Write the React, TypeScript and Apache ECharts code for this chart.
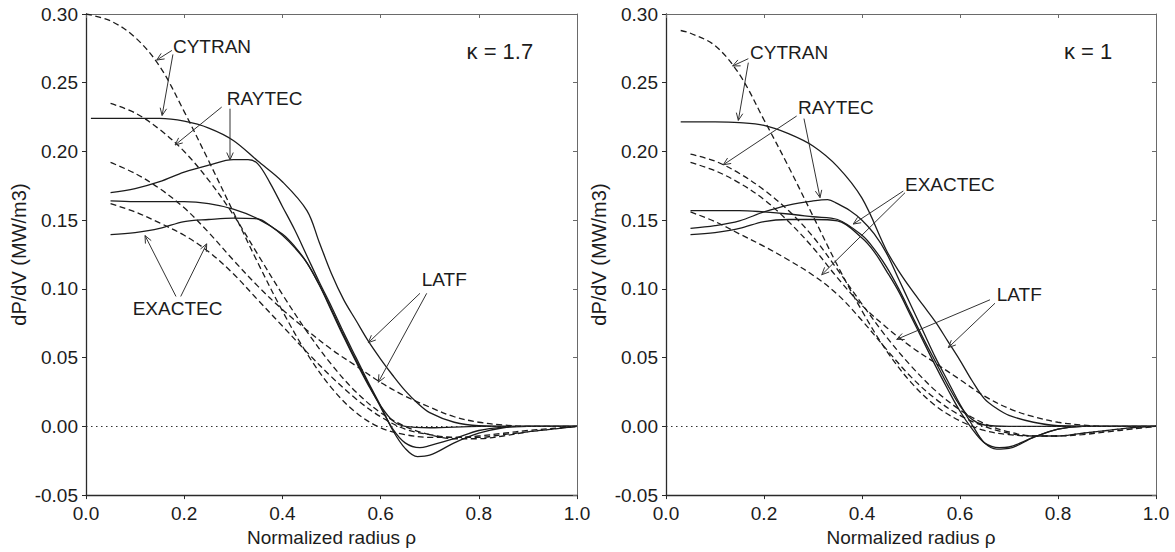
import React, { useEffect, useRef } from "react";
import * as echarts from "echarts";

// ---------- texts ----------
const panelLabels = ["κ = 1.7", "κ = 1"];
const xAxisName = "Normalized radius ρ";
const yAxisName = "dP/dV (MW/m3)";

// ---------- axis ranges ----------
const xMin = 0, xMax = 1, xStep = 0.2;
const yMin = -0.05, yMax = 0.3, yStep = 0.05;

// ---------- κ = 1.7 (left panel) ----------
const k17_cytranSolid_rho = [0.01, 0.05, 0.10, 0.15, 0.20, 0.25, 0.30, 0.35, 0.40, 0.45, 0.475, 0.50, 0.525, 0.55, 0.575, 0.60, 0.625, 0.65, 0.675, 0.70, 0.75, 0.80, 0.90, 1.00];
const k17_cytranSolid_val = [0.224, 0.224, 0.224, 0.224, 0.222, 0.217, 0.208, 0.193, 0.178, 0.157, 0.134, 0.111, 0.092, 0.077, 0.062, 0.049, 0.037, 0.026, 0.017, 0.010, 0.003, 0.0005, 0, 0];

const k17_raytecSolid_rho = [0.05, 0.10, 0.15, 0.20, 0.25, 0.30, 0.33, 0.35, 0.375, 0.40, 0.425, 0.45, 0.475, 0.50, 0.525, 0.55, 0.575, 0.60, 0.625, 0.65, 0.675, 0.70, 0.75, 0.80, 0.85, 0.90, 1.00];
const k17_raytecSolid_val = [0.170, 0.173, 0.178, 0.185, 0.190, 0.194, 0.194, 0.191, 0.177, 0.160, 0.143, 0.124, 0.105, 0.087, 0.068, 0.050, 0.032, 0.015, -0.003, -0.016, -0.022, -0.021, -0.012, -0.005, -0.001, 0, 0];

const k17_latfSolid_rho = [0.05, 0.10, 0.15, 0.20, 0.25, 0.30, 0.35, 0.40, 0.425, 0.45, 0.475, 0.50, 0.525, 0.55, 0.575, 0.60, 0.625, 0.65, 0.70, 0.80, 1.00];
const k17_latfSolid_val = [0.164, 0.1635, 0.1635, 0.1635, 0.162, 0.158, 0.151, 0.140, 0.131, 0.119, 0.103, 0.084, 0.065, 0.047, 0.030, 0.015, 0.004, 0.000, -0.001, 0, 0];

const k17_exactecSolid_rho = [0.05, 0.10, 0.15, 0.20, 0.25, 0.30, 0.35, 0.375, 0.40, 0.425, 0.45, 0.475, 0.50, 0.525, 0.55, 0.575, 0.60, 0.625, 0.65, 0.68, 0.70, 0.75, 0.80, 0.85, 0.90, 1.00];
const k17_exactecSolid_val = [0.1395, 0.141, 0.144, 0.149, 0.1505, 0.1515, 0.151, 0.146, 0.139, 0.130, 0.119, 0.103, 0.085, 0.066, 0.048, 0.031, 0.014, -0.002, -0.012, -0.0155, -0.014, -0.009, -0.003, -0.0005, 0, 0];

const k17_cytranDashed_rho = [0.00, 0.05, 0.10, 0.15, 0.20, 0.25, 0.30, 0.35, 0.40, 0.45, 0.50, 0.55, 0.60, 0.65, 0.70, 0.75, 0.80, 0.85, 0.90, 0.95, 1.00];
const k17_cytranDashed_val = [0.300, 0.295, 0.283, 0.262, 0.229, 0.193, 0.156, 0.119, 0.084, 0.053, 0.028, 0.010, -0.001, -0.006, -0.008, -0.008, -0.007, -0.005, -0.003, -0.0015, 0];

const k17_raytecDashed_rho = [0.05, 0.10, 0.15, 0.20, 0.25, 0.30, 0.35, 0.40, 0.45, 0.50, 0.55, 0.60, 0.65, 0.70, 0.75, 0.80, 0.85, 0.90, 0.95, 1.00];
const k17_raytecDashed_val = [0.235, 0.228, 0.216, 0.200, 0.179, 0.154, 0.125, 0.096, 0.069, 0.045, 0.025, 0.010, 0.000, -0.006, -0.009, -0.009, -0.007, -0.004, -0.002, 0];

const k17_latfDashed_rho = [0.05, 0.10, 0.15, 0.20, 0.25, 0.30, 0.35, 0.40, 0.45, 0.50, 0.55, 0.60, 0.65, 0.70, 0.75, 0.80, 0.85, 0.90, 1.00];
const k17_latfDashed_val = [0.192, 0.184, 0.173, 0.159, 0.141, 0.121, 0.102, 0.085, 0.070, 0.056, 0.044, 0.032, 0.022, 0.014, 0.007, 0.003, 0.001, 0, 0];

const k17_exactecDashed_rho = [0.05, 0.10, 0.15, 0.20, 0.25, 0.30, 0.35, 0.40, 0.45, 0.50, 0.55, 0.60, 0.65, 0.70, 0.75, 0.80, 0.85, 0.90, 0.95, 1.00];
const k17_exactecDashed_val = [0.162, 0.156, 0.148, 0.139, 0.127, 0.111, 0.092, 0.073, 0.054, 0.036, 0.020, 0.007, -0.002, -0.006, -0.008, -0.008, -0.006, -0.004, -0.002, 0];

// ---------- κ = 1 (right panel) ----------
const k1_cytranSolid_rho = [0.03, 0.10, 0.15, 0.20, 0.25, 0.30, 0.35, 0.40, 0.45, 0.475, 0.50, 0.525, 0.55, 0.575, 0.60, 0.625, 0.65, 0.675, 0.70, 0.75, 0.80, 0.90, 1.00];
const k1_cytranSolid_val = [0.2215, 0.2215, 0.221, 0.219, 0.213, 0.204, 0.189, 0.166, 0.128, 0.113, 0.100, 0.088, 0.076, 0.062, 0.048, 0.033, 0.020, 0.013, 0.008, 0.003, 0.0005, 0, 0];

const k1_raytecSolid_rho = [0.05, 0.10, 0.15, 0.20, 0.25, 0.30, 0.33, 0.35, 0.375, 0.40, 0.425, 0.45, 0.475, 0.50, 0.525, 0.55, 0.575, 0.60, 0.625, 0.65, 0.675, 0.70, 0.75, 0.80, 0.85, 1.00];
const k1_raytecSolid_val = [0.144, 0.146, 0.1495, 0.156, 0.161, 0.164, 0.165, 0.162, 0.157, 0.150, 0.140, 0.126, 0.107, 0.088, 0.069, 0.050, 0.033, 0.016, 0.001, -0.012, -0.0165, -0.016, -0.008, -0.002, 0, 0];

const k1_latfSolid_rho = [0.05, 0.10, 0.15, 0.20, 0.25, 0.30, 0.35, 0.40, 0.425, 0.45, 0.475, 0.50, 0.525, 0.55, 0.575, 0.60, 0.625, 0.65, 0.70, 1.00];
const k1_latfSolid_val = [0.157, 0.157, 0.157, 0.156, 0.1545, 0.1525, 0.1505, 0.139, 0.129, 0.116, 0.100, 0.082, 0.064, 0.047, 0.030, 0.015, 0.005, 0.001, 0, 0];

const k1_exactecSolid_rho = [0.05, 0.10, 0.15, 0.20, 0.25, 0.30, 0.35, 0.40, 0.425, 0.45, 0.475, 0.50, 0.525, 0.55, 0.575, 0.60, 0.625, 0.65, 0.68, 0.70, 0.75, 0.80, 0.85, 1.00];
const k1_exactecSolid_val = [0.1395, 0.141, 0.144, 0.149, 0.1505, 0.1505, 0.1495, 0.137, 0.127, 0.113, 0.098, 0.080, 0.062, 0.044, 0.027, 0.011, -0.002, -0.012, -0.0155, -0.015, -0.008, -0.002, 0, 0];

const k1_cytranDashed_rho = [0.03, 0.05, 0.10, 0.15, 0.20, 0.25, 0.30, 0.35, 0.40, 0.45, 0.50, 0.55, 0.60, 0.65, 0.70, 0.75, 0.80, 0.85, 0.90, 0.95, 1.00];
const k1_cytranDashed_val = [0.288, 0.286, 0.277, 0.256, 0.223, 0.189, 0.153, 0.117, 0.084, 0.055, 0.032, 0.015, 0.004, -0.003, -0.006, -0.007, -0.007, -0.005, -0.003, -0.001, 0];

const k1_raytecDashed_rho = [0.05, 0.10, 0.15, 0.20, 0.25, 0.30, 0.35, 0.40, 0.45, 0.50, 0.55, 0.60, 0.65, 0.70, 0.75, 0.80, 0.85, 0.90, 0.95, 1.00];
const k1_raytecDashed_val = [0.198, 0.193, 0.184, 0.172, 0.157, 0.138, 0.114, 0.089, 0.065, 0.044, 0.026, 0.012, 0.002, -0.004, -0.007, -0.007, -0.006, -0.004, -0.002, 0];

const k1_latfDashed_rho = [0.05, 0.10, 0.15, 0.20, 0.25, 0.30, 0.35, 0.40, 0.45, 0.50, 0.55, 0.60, 0.65, 0.70, 0.75, 0.80, 0.85, 0.90, 1.00];
const k1_latfDashed_val = [0.192, 0.186, 0.177, 0.165, 0.149, 0.130, 0.108, 0.088, 0.072, 0.058, 0.046, 0.034, 0.022, 0.013, 0.007, 0.003, 0.001, 0, 0];

const k1_exactecDashed_rho = [0.05, 0.10, 0.15, 0.20, 0.25, 0.30, 0.35, 0.40, 0.45, 0.50, 0.55, 0.60, 0.65, 0.70, 0.75, 0.80, 0.85, 0.90, 0.95, 1.00];
const k1_exactecDashed_val = [0.156, 0.149, 0.140, 0.131, 0.121, 0.110, 0.096, 0.077, 0.056, 0.036, 0.020, 0.008, 0.000, -0.005, -0.007, -0.007, -0.005, -0.003, -0.001, 0];

// ---------- annotations (data coordinates) ----------
// [panel, text, textRho, textVal, arrows: [fromRho, fromVal, tipRho, tipVal][]]
const annotationLabels: [number, string, number, number, number[][]][] = [
  [0, "CYTRAN", 0.177, 0.2763, [[0.175, 0.2735, 0.144, 0.2665], [0.177, 0.2706, 0.155, 0.2262]]],
  [0, "RAYTEC", 0.2866, 0.2382, [[0.2764, 0.2323, 0.1813, 0.2047], [0.2933, 0.2311, 0.2933, 0.1939]]],
  [0, "EXACTEC", 0.0951, 0.0861, [[0.1833, 0.0945, 0.1202, 0.1388], [0.1929, 0.0945, 0.2458, 0.1328]]],
  [0, "LATF", 0.6837, 0.1067, [[0.6802, 0.0968, 0.575, 0.0609], [0.6939, 0.0968, 0.5953, 0.0321]]],
  [1, "CYTRAN", 0.1714, 0.272, [[0.168, 0.2675, 0.136, 0.2622], [0.168, 0.2646, 0.1476, 0.2226]]],
  [1, "RAYTEC", 0.2694, 0.2318, [[0.2667, 0.2258, 0.1169, 0.1903], [0.2816, 0.2239, 0.3143, 0.1664]]],
  [1, "EXACTEC", 0.4878, 0.1757, [[0.4843, 0.1712, 0.3822, 0.1472], [0.4878, 0.170, 0.3178, 0.1103]]],
  [1, "LATF", 0.6749, 0.0963, [[0.6612, 0.0921, 0.4708, 0.0633], [0.6714, 0.0896, 0.5761, 0.0573]]],
];
const kappaLabelPos = [[0.775, 0.2728], [0.812, 0.2728]];

const FONT = '"Liberation Sans", Arial, Helvetica, sans-serif';
const INK = "#1c1c1c";

const curves = [
  [0, k17_cytranSolid_rho, k17_cytranSolid_val, false],
  [0, k17_raytecSolid_rho, k17_raytecSolid_val, false],
  [0, k17_latfSolid_rho, k17_latfSolid_val, false],
  [0, k17_exactecSolid_rho, k17_exactecSolid_val, false],
  [0, k17_cytranDashed_rho, k17_cytranDashed_val, true],
  [0, k17_raytecDashed_rho, k17_raytecDashed_val, true],
  [0, k17_latfDashed_rho, k17_latfDashed_val, true],
  [0, k17_exactecDashed_rho, k17_exactecDashed_val, true],
  [1, k1_cytranSolid_rho, k1_cytranSolid_val, false],
  [1, k1_raytecSolid_rho, k1_raytecSolid_val, false],
  [1, k1_latfSolid_rho, k1_latfSolid_val, false],
  [1, k1_exactecSolid_rho, k1_exactecSolid_val, false],
  [1, k1_cytranDashed_rho, k1_cytranDashed_val, true],
  [1, k1_raytecDashed_rho, k1_raytecDashed_val, true],
  [1, k1_latfDashed_rho, k1_latfDashed_val, true],
  [1, k1_exactecDashed_rho, k1_exactecDashed_val, true],
] as [number, number[], number[], boolean][];

function buildOption(): any {
  const grids = [
    { left: 86, top: 14, width: 491, height: 487 },
    { left: 666, top: 14, width: 490, height: 487 },
  ];
  const xAxes: any[] = [];
  const yAxes: any[] = [];
  [0, 1].forEach((g) => {
    xAxes.push({
      type: "value", gridIndex: g, position: "bottom", min: xMin, max: xMax, interval: xStep,
      name: xAxisName, nameLocation: "middle", nameGap: 29,
      nameTextStyle: { fontSize: 19, fontFamily: FONT, color: INK },
      axisLine: { show: true, onZero: false, lineStyle: { color: "#2a2a2a", width: 1.3 } },
      axisTick: { show: true, inside: false, length: 4, lineStyle: { color: "#2a2a2a" } },
      axisLabel: { fontSize: 19, fontFamily: FONT, color: INK, margin: 9, formatter: (v: number) => v.toFixed(1) },
      splitLine: { show: false },
    });
    xAxes.push({
      type: "value", gridIndex: g, position: "top", min: xMin, max: xMax, interval: xStep,
      axisLine: { show: true, onZero: false, lineStyle: { color: "#6a6a6a", width: 1 } },
      axisTick: { show: true, inside: true, length: 4, lineStyle: { color: "#6a6a6a" } },
      axisLabel: { show: false },
      splitLine: { show: false },
    });
    yAxes.push({
      type: "value", gridIndex: g, position: "left", min: yMin, max: yMax, interval: yStep,
      name: yAxisName, nameLocation: "middle", nameGap: 57,
      nameTextStyle: { fontSize: 20, fontFamily: FONT, color: INK },
      axisLine: { show: true, onZero: false, lineStyle: { color: "#2a2a2a", width: 1.3 } },
      axisTick: { show: true, inside: false, length: 4, lineStyle: { color: "#2a2a2a" } },
      axisLabel: {
        fontSize: 19, fontFamily: FONT, color: INK, margin: 8,
        formatter: (v: number) => (Math.abs(v) < 1e-9 ? "0.00" : v.toFixed(2)),
      },
      splitLine: { show: false },
    });
    yAxes.push({
      type: "value", gridIndex: g, position: "right", min: yMin, max: yMax, interval: yStep,
      axisLine: { show: true, onZero: false, lineStyle: { color: "#6a6a6a", width: 1 } },
      axisTick: { show: true, inside: true, length: 4, lineStyle: { color: "#6a6a6a" } },
      axisLabel: { show: false },
      splitLine: { show: false },
    });
  });

  const series: any[] = curves.map(([panel, rho, val, dashed], i) => ({
    type: "line",
    xAxisIndex: panel * 2,
    yAxisIndex: panel * 2,
    data: rho.map((r, k) => [r, val[k]]),
    showSymbol: false,
    symbol: "none",
    smooth: 0.35,
    silent: true,
    z: 3,
    lineStyle: { color: INK, width: 1.3, type: dashed ? [6, 3.5] : "solid" },
    markLine:
      i === 0 || i === 8
        ? {
            silent: true,
            symbol: ["none", "none"],
            label: { show: false },
            lineStyle: { color: "#333", width: 1.2, type: [1.5, 3.5] },
            data: [{ yAxis: 0 }],
          }
        : undefined,
  }));

  return {
    animation: false,
    backgroundColor: "#ffffff",
    grid: grids,
    xAxis: xAxes,
    yAxis: yAxes,
    series,
  };
}

function buildGraphics(chart: any): any[] {
  const els: any[] = [];
  const toPx = (panel: number, x: number, y: number) =>
    chart.convertToPixel({ xAxisIndex: panel * 2, yAxisIndex: panel * 2 }, [x, y]);
  annotationLabels.forEach(([panel, text, tx, ty, arrows]) => {
    const p = toPx(panel, tx, ty);
    els.push({
      type: "text", x: p[0], y: p[1], silent: true, z: 10,
      style: { text, fontSize: 19, fontFamily: FONT, fill: INK, align: "left", verticalAlign: "middle" },
    });
    arrows.forEach(([fx, fy, ax, ay]) => {
      const a = toPx(panel, fx, fy);
      const b = toPx(panel, ax, ay);
      const dx = b[0] - a[0], dy = b[1] - a[1];
      const len = Math.hypot(dx, dy) || 1;
      const ux = dx / len, uy = dy / len;
      const L = 8, ang = (24 * Math.PI) / 180;
      const rot = (c: number, s: number) => [ux * c - uy * s, ux * s + uy * c];
      const r1 = rot(Math.cos(ang), Math.sin(ang));
      const r2 = rot(Math.cos(ang), -Math.sin(ang));
      els.push({
        type: "line", silent: true, z: 10,
        shape: { x1: a[0], y1: a[1], x2: b[0], y2: b[1] },
        style: { stroke: "#333", lineWidth: 1 },
      });
      els.push({
        type: "polyline", silent: true, z: 10,
        shape: { points: [[b[0] - L * r1[0], b[1] - L * r1[1]], [b[0], b[1]], [b[0] - L * r2[0], b[1] - L * r2[1]]] },
        style: { stroke: "#333", lineWidth: 1, fill: "none" },
      });
    });
  });
  panelLabels.forEach((t, panel) => {
    const p = toPx(panel, kappaLabelPos[panel][0], kappaLabelPos[panel][1]);
    els.push({
      type: "text", x: p[0], y: p[1], silent: true, z: 10,
      style: { text: t, fontSize: 22, fontFamily: FONT, fill: INK, align: "left", verticalAlign: "middle" },
    });
  });
  return els;
}

export default function App() {
  const ref = useRef<HTMLDivElement>(null);
  useEffect(() => {
    if (!ref.current) return;
    const chart = echarts.init(ref.current, null, { renderer: "svg" });
    chart.setOption(buildOption());
    chart.setOption({ graphic: buildGraphics(chart) });
    return () => chart.dispose();
  }, []);
  return (
    <div
      ref={ref}
      style={{ position: "absolute", left: 0, top: 0, width: 1175, height: 552, background: "#fff" }}
    />
  );
}
